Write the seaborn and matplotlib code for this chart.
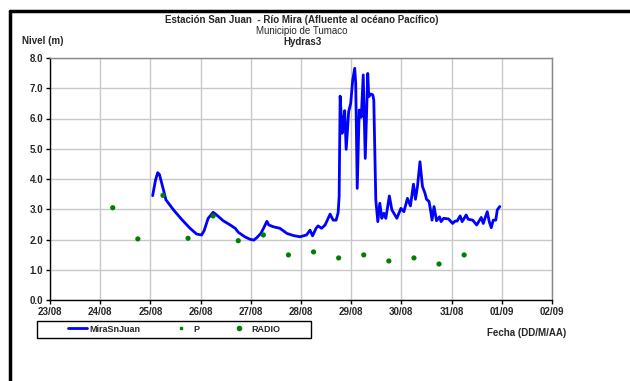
import pandas as pd
import numpy as np
import matplotlib
matplotlib.use('Agg')
import matplotlib.pyplot as plt
import matplotlib.dates as mdates
from matplotlib.lines import Line2D
from matplotlib.patches import Rectangle
import seaborn as sns

# Nivel del rio Mira en San Juan (dias desde 23/08 00:00)
inicio = pd.Timestamp('2008-08-23')

mira_dias = [2.045, 2.10, 2.145, 2.18, 2.26, 2.31, 2.46, 2.62, 2.79, 2.92,
             3.02, 3.07, 3.15, 3.25, 3.32, 3.45, 3.59, 3.69, 3.75, 3.88,
             3.98, 4.06, 4.12, 4.20, 4.26, 4.32, 4.36, 4.45, 4.58, 4.72,
             4.85, 4.98, 5.11, 5.18, 5.23, 5.30, 5.34, 5.41, 5.48, 5.58,
             5.64, 5.70, 5.74, 5.76, 5.78, 5.82, 5.84, 5.87, 5.90, 5.95,
             5.99, 6.03, 6.07, 6.09, 6.12, 6.16, 6.20, 6.24, 6.28, 6.33,
             6.35, 6.39, 6.43, 6.45, 6.49, 6.53, 6.57, 6.61, 6.65, 6.69,
             6.76, 6.81, 6.91, 6.99, 7.05, 7.12, 7.18, 7.24, 7.28, 7.32,
             7.37, 7.42, 7.47, 7.50, 7.55, 7.58, 7.61, 7.65, 7.70, 7.76,
             7.79, 7.84, 7.94, 8.02, 8.07, 8.11, 8.17, 8.21, 8.29, 8.33,
             8.42, 8.50, 8.59, 8.63, 8.71, 8.75, 8.79, 8.83, 8.88, 8.91,
             8.96]
mira_nivel = [3.45, 3.95, 4.21, 4.15, 3.64, 3.31, 2.98, 2.67, 2.37, 2.18,
              2.15, 2.29, 2.70, 2.90, 2.81, 2.62, 2.48, 2.37, 2.24, 2.09,
              2.01, 1.98, 2.06, 2.20, 2.39, 2.60, 2.48, 2.42, 2.37, 2.20,
              2.13, 2.09, 2.15, 2.31, 2.12, 2.37, 2.45, 2.37, 2.48, 2.84,
              2.64, 2.64, 2.89, 3.42, 6.74, 5.51, 5.79, 6.26, 4.98, 6.23,
              6.50, 7.27, 7.66, 7.16, 3.69, 6.28, 6.04, 7.44, 4.68, 7.49,
              6.72, 6.81, 6.78, 6.61, 3.31, 2.59, 3.20, 2.70, 2.87, 2.70,
              3.44, 2.98, 2.70, 3.03, 2.92, 3.36, 3.11, 3.83, 3.33, 3.75,
              4.57, 3.75, 3.53, 3.33, 3.26, 2.98, 2.64, 3.09, 2.62, 2.75,
              2.59, 2.70, 2.68, 2.53, 2.61, 2.61, 2.78, 2.59, 2.81, 2.67,
              2.64, 2.48, 2.73, 2.53, 2.92, 2.59, 2.39, 2.64, 2.64, 2.98,
              3.09]

# Puntos verdes (P / RADIO), cada 12 horas
radio_dias = [1.25, 1.75, 2.25, 2.75, 3.25, 3.75, 4.25, 4.75, 5.25, 5.75,
              6.25, 6.75, 7.25, 7.75, 8.25]
radio_nivel = [3.05, 2.02, 3.46, 2.04, 2.78, 1.96, 2.15, 1.49, 1.59, 1.39,
               1.49, 1.29, 1.39, 1.19, 1.49]
p_dias = radio_dias
p_nivel = radio_nivel

mira = pd.DataFrame({'fecha': inicio + pd.to_timedelta(mira_dias, unit='D'),
                     'nivel': mira_nivel})
radio = pd.DataFrame({'fecha': inicio + pd.to_timedelta(radio_dias, unit='D'),
                      'nivel': radio_nivel})
p = pd.DataFrame({'fecha': inicio + pd.to_timedelta(p_dias, unit='D'),
                  'nivel': p_nivel})

sns.set_style('white')
plt.rcParams['font.family'] = ['Liberation Sans', 'DejaVu Sans']

fig = plt.figure(figsize=(6.3, 3.81), dpi=100)
ax = fig.add_axes([50/630, 1 - 300/381, 502/630, 242/381])

sns.lineplot(data=mira, x='fecha', y='nivel', ax=ax, color='#0000ff',
             linewidth=2.0, sort=False, estimator=None, label='MiraSnJuan')
sns.scatterplot(data=radio, x='fecha', y='nivel', ax=ax, color='#008000',
                s=14, marker='o', edgecolor='none', label='RADIO', zorder=3)
sns.scatterplot(data=p, x='fecha', y='nivel', ax=ax, color='#008000',
                s=3, marker='s', edgecolor='none', label='P', zorder=4)

ax.set_xlim(inicio, inicio + pd.Timedelta(days=10))
ax.set_ylim(0, 8)
ax.set_yticks(np.arange(0, 8.1, 1))
ax.yaxis.set_major_formatter(matplotlib.ticker.FormatStrFormatter('%.1f'))
ax.xaxis.set_major_locator(mdates.DayLocator())
ax.xaxis.set_major_formatter(mdates.DateFormatter('%d/%m'))
ax.set_xlabel('')
ax.set_ylabel('')
ax.grid(True, color='#c8c8c8', linewidth=1.0)
ax.set_axisbelow(True)
ax.tick_params(axis='both', direction='out', length=3, width=1, color='black',
               labelsize=7, pad=2, bottom=True, left=True)
for lab in ax.get_xticklabels() + ax.get_yticklabels():
    lab.set_fontweight('bold')
ax.spines['left'].set_color('black')
ax.spines['bottom'].set_color('black')
ax.spines['top'].set_color('#888888')
ax.spines['right'].set_color('#888888')
for s in ax.spines.values():
    s.set_linewidth(1.0)
ax.get_legend().remove()

# Titulos
fig.text(302/630, 1 - 20/381, 'Estación San Juan  - Río Mira (Afluente al océano Pacífico)',
         ha='center', va='center', fontsize=7, fontweight='bold')
fig.text(302/630, 1 - 31/381, 'Municipio de Tumaco', ha='center', va='center', fontsize=7)
fig.text(302/630, 1 - 42/381, 'Hydras3', ha='center', va='center', fontsize=7, fontweight='bold')
fig.text(22/630, 1 - 41/381, 'Nivel (m)', ha='left', va='center', fontsize=7, fontweight='bold')
fig.text(527/630, 1 - 333/381, 'Fecha (DD/M/AA)', ha='center', va='center',
         fontsize=7, fontweight='bold')

# Leyenda
handles = [Line2D([], [], color='#0000ff', linewidth=2.0),
           Line2D([], [], color='#008000', marker='s', markersize=2, linestyle='none'),
           Line2D([], [], color='#008000', marker='o', markersize=3, linestyle='none')]
fig.legend(handles, ['MiraSnJuan', 'P', 'RADIO'], loc='center left',
           bbox_to_anchor=(68/630, 1 - 329/381), ncol=3, frameon=False,
           prop={'size': 6.5, 'weight': 'bold'}, handlelength=2.1,
           handletextpad=0.3, columnspacing=3.4, borderaxespad=0, borderpad=0)
fig.patches.append(Rectangle((37/630, 1 - 338/381), 274/630, 17/381,
                             transform=fig.transFigure, fill=False,
                             edgecolor='black', linewidth=1.0))

# Marco exterior
fig.add_artist(Line2D([10/630, 1.0], [1 - 11/381, 1 - 11/381],
                      transform=fig.transFigure, color='black', linewidth=2.5))
fig.add_artist(Line2D([10/630, 10/630], [0, 1 - 11/381],
                      transform=fig.transFigure, color='black', linewidth=2.5))

fig.savefig('out.png', dpi=100, facecolor='white')
